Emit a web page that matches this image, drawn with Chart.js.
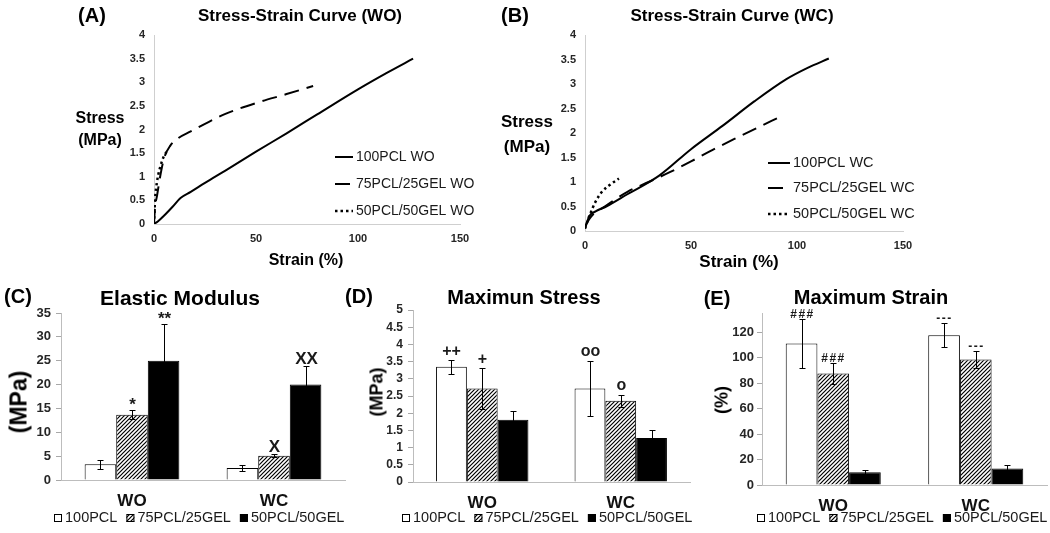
<!DOCTYPE html>
<html>
<head>
<meta charset="utf-8">
<script src="https://cdn.jsdelivr.net/npm/chart.js@4.4.1/dist/chart.umd.min.js"></script>
<style>
  html, body { margin: 0; padding: 0; background: #fff; width: 1050px; height: 533px; overflow: hidden; }
  body { position: relative; font-family: "Liberation Sans", Arial, sans-serif; color: #000; }
  canvas { position: absolute; left: 0; top: 0; }
  .t { position: absolute; white-space: nowrap; font-weight: bold; transform: translate(-50%, -50%); }
  .r { transform: translate(-50%, -50%) rotate(-90deg); }
</style>
</head>
<body>
<canvas id="chartA" width="1050" height="533"></canvas>
<canvas id="chartB" width="1050" height="533"></canvas>
<canvas id="chartC" width="1050" height="533"></canvas>
<canvas id="chartD" width="1050" height="533"></canvas>
<canvas id="chartE" width="1050" height="533"></canvas>

<div class="t" style="left:92px;top:15px;font-size:20px">(A)</div>
<div class="t" style="left:300px;top:16px;font-size:17px">Stress-Strain Curve (WO)</div>
<div class="t" style="left:100px;top:118px;font-size:16px">Stress</div>
<div class="t" style="left:100px;top:140px;font-size:16px">(MPa)</div>
<div class="t" style="left:306px;top:260px;font-size:16px">Strain (%)</div>

<div class="t" style="left:515px;top:15px;font-size:20px">(B)</div>
<div class="t" style="left:732px;top:16px;font-size:17px">Stress-Strain Curve (WC)</div>
<div class="t" style="left:527px;top:122px;font-size:17px">Stress</div>
<div class="t" style="left:527px;top:147px;font-size:17px">(MPa)</div>
<div class="t" style="left:739px;top:262px;font-size:17px">Strain (%)</div>

<div class="t" style="left:18px;top:296px;font-size:20px">(C)</div>
<div class="t" style="left:180px;top:298px;font-size:21px">Elastic Modulus</div>
<div class="t r" style="left:19px;top:402px;font-size:23px">(MPa)</div>

<div class="t" style="left:359px;top:296px;font-size:20px">(D)</div>
<div class="t" style="left:524px;top:297px;font-size:20px">Maximun Stress</div>
<div class="t r" style="left:377px;top:392px;font-size:18px">(MPa)</div>

<div class="t" style="left:717px;top:298px;font-size:20px">(E)</div>
<div class="t" style="left:871px;top:297px;font-size:20px">Maximum Strain</div>
<div class="t r" style="left:722px;top:400px;font-size:18px">(%)</div>

<script>
Chart.defaults.font.family = "'Liberation Sans', Arial, sans-serif";
Chart.defaults.color = "#262626";
Chart.defaults.animation = false;

const W = 1050, H = 533;
const FONT = "'Liberation Sans', Arial, sans-serif";

// stress-strain curves, points are [strain %, stress MPa]
const curveLabelsWO = ["100PCL WO", "75PCL/25GEL WO", "50PCL/50GEL WO"];
const curveLabelsWC = ["100PCL WC", "75PCL/25GEL WC", "50PCL/50GEL WC"];
const pcl100WO = [[0, 0], [2, 0.06], [5, 0.18], [9, 0.36], [13, 0.55], [18, 0.68], [25, 0.87], [35, 1.13], [50, 1.53], [65, 1.92], [80, 2.32], [100, 2.85], [115, 3.22], [127, 3.5]];
const pcl75WO = [[0, 0], [0.5, 0.35], [1.5, 0.6], [3, 1.0], [5, 1.4], [8, 1.66], [12, 1.82], [18, 1.96], [25, 2.12], [35, 2.33], [50, 2.56], [65, 2.75], [78, 2.92]];
const pcl50WO = [[0, 0], [0.5, 0.5], [1.5, 0.9], [3, 1.2], [5, 1.45], [6.5, 1.54]];
const pcl100WC = [[0, 0.05], [2, 0.3], [5, 0.4], [10, 0.5], [20, 0.75], [35, 1.13], [50, 1.67], [65, 2.15], [80, 2.65], [95, 3.1], [105, 3.33], [115, 3.52]];
const pcl75WC = [[0, 0.1], [3, 0.3], [10, 0.52], [20, 0.8], [30, 1.0], [40, 1.2], [50, 1.42], [60, 1.65], [70, 1.87], [80, 2.08], [92, 2.33]];
const pcl50WC = [[0, 0.05], [2, 0.3], [5, 0.6], [8, 0.8], [12, 0.95], [16, 1.07]];

// bar panels, one inner array per material: [WO, WC]
const groups = ["WO", "WC"];
const materials = ["100PCL", "75PCL/25GEL", "50PCL/50GEL"];
const modulusMean = [[3.3, 2.5], [13.7, 5.1], [25.0, 20.0]];
const modulusErr = [[0.9, 0.6], [0.9, 0.3], [7.6, 3.8]];
const modulusMarks = [["", ""], ["*", "X"], ["**", "XX"]];
const stressMean = [[3.35, 2.72], [2.72, 2.36], [1.81, 1.28]];
const stressErr = [[0.2, 0.79], [0.6, 0.18], [0.24, 0.22]];
const stressMarks = [["++", "oo"], ["+", "o"], ["", ""]];
const strainMean = [[111, 117.5], [87.5, 98.5], [10, 13]];
const strainErr = [[19.5, 9.5], [8.5, 7], [2, 3]];
const strainMarks = [["###", "---"], ["###", "---"], ["", ""]];

const plainNumber = (v) => String(+Number(v).toFixed(2));

function makeHatch() {
  const c = document.createElement("canvas");
  c.width = 4; c.height = 4;
  const g = c.getContext("2d");
  g.fillStyle = "#fff";
  g.fillRect(0, 0, 4, 4);
  g.strokeStyle = "#000";
  g.lineWidth = 1.2;
  g.beginPath();
  g.moveTo(0, 4); g.lineTo(4, 0);
  g.moveTo(-1, 1); g.lineTo(1, -1);
  g.moveTo(3, 5); g.lineTo(5, 3);
  g.stroke();
  return g.createPattern(c, "repeat");
}
const fills = ["#ffffff", makeHatch(), "#000000"];

// legend drawn inside the curve panels
const lineKey = {
  id: "lineKey",
  afterDraw(chart, args, opts) {
    const ctx = chart.ctx;
    ctx.save();
    ctx.font = opts.fontSize + "px " + FONT;
    ctx.textBaseline = "middle";
    chart.data.datasets.forEach((ds, i) => {
      const y = opts.rows[i];
      ctx.strokeStyle = "#000";
      ctx.lineWidth = ds.borderWidth;
      ctx.setLineDash(ds.borderDash || []);
      ctx.beginPath();
      ctx.moveTo(opts.x, y);
      ctx.lineTo(opts.x + opts.len, y);
      ctx.stroke();
      ctx.setLineDash([]);
      ctx.fillStyle = "#1a1a1a";
      ctx.fillText(ds.label, opts.x + opts.len + 3, y);
    });
    ctx.restore();
  }
};

// legend under the bar panels
const boxKey = {
  id: "boxKey",
  afterDraw(chart, args, opts) {
    const ctx = chart.ctx;
    const box = 8, gapIn = 3, gapOut = 9;
    ctx.save();
    ctx.font = "14.5px " + FONT;
    ctx.textBaseline = "middle";
    const ds = chart.data.datasets;
    let total = 0;
    ds.forEach((d, i) => { total += box + gapIn + ctx.measureText(d.label).width + (i ? gapOut : 0); });
    let x = Math.round(opts.cx - total / 2);
    ds.forEach((d, i) => {
      if (i) x += gapOut;
      const top = Math.round(opts.y - box / 2);
      ctx.fillStyle = d.backgroundColor;
      ctx.fillRect(x, top, box, box);
      ctx.strokeStyle = "#000";
      ctx.lineWidth = 1;
      ctx.strokeRect(x + 0.5, top + 0.5, box - 1, box - 1);
      x += box + gapIn;
      ctx.fillStyle = "#1a1a1a";
      ctx.fillText(d.label, x, opts.y);
      x += ctx.measureText(d.label).width;
    });
    ctx.restore();
  }
};

// error bars plus the significance marks above them
const errorBars = {
  id: "errorBars",
  afterDatasetsDraw(chart, args, opts) {
    const ctx = chart.ctx;
    const y = chart.scales.y;
    chart.data.datasets.forEach((ds, i) => {
      chart.getDatasetMeta(i).data.forEach((bar, j) => {
        const v = ds.data[j], e = ds.errors[j];
        const top = Math.round(y.getPixelForValue(v + e)) + 0.5;
        const bot = Math.round(y.getPixelForValue(v - e)) + 0.5;
        const x = Math.round(bar.x) + 0.5;
        ctx.save();
        ctx.strokeStyle = "#000";
        ctx.lineWidth = 1;
        ctx.beginPath();
        ctx.moveTo(x, top); ctx.lineTo(x, bot);
        ctx.moveTo(x - 3, top); ctx.lineTo(x + 3, top);
        ctx.moveTo(x - 3, bot); ctx.lineTo(x + 3, bot);
        ctx.stroke();
        const mark = ds.marks[j];
        if (mark) {
          ctx.font = opts.font;
          if ("letterSpacing" in ctx) ctx.letterSpacing = opts.spacing || "0px";
          ctx.textAlign = "center";
          ctx.textBaseline = "alphabetic";
          ctx.fillStyle = "#1a1a1a";
          const m = ctx.measureText(mark);
          const centre = top - opts.gap;
          const base = centre + (m.actualBoundingBoxAscent - m.actualBoundingBoxDescent) / 2;
          ctx.fillText(mark, x, base);
        }
        ctx.restore();
      });
    });
  }
};

function curveChart(id, labels, series, dashes, area, key, tickSize) {
  const yW = 40, xH = 30;
  new Chart(document.getElementById(id), {
    type: "line",
    data: {
      datasets: series.map((s, i) => ({
        label: labels[i],
        data: s,
        borderColor: "#000",
        borderWidth: i === 2 ? 2.5 : 2,
        borderDash: dashes[i],
        pointRadius: 0,
        cubicInterpolationMode: "monotone",
        fill: false
      }))
    },
    options: {
      responsive: false,
      events: [],
      layout: { padding: { left: area.left - yW, right: W - area.right, top: area.top, bottom: H - area.bottom - xH } },
      scales: {
        x: {
          type: "linear", min: 0, max: 150,
          afterFit: (s) => { s.height = xH; },
          ticks: { stepSize: 50, padding: 8, font: { size: tickSize, weight: "bold" }, callback: plainNumber },
          grid: { display: false, drawTicks: false },
          border: { color: "#cfcfcf" }
        },
        y: {
          min: 0, max: 4,
          afterFit: (s) => { s.width = yW; },
          ticks: { stepSize: 0.5, padding: 9, autoSkip: false, font: { size: tickSize, weight: "bold" }, callback: plainNumber },
          grid: { display: false, drawTicks: false },
          border: { color: "#cfcfcf" }
        }
      },
      plugins: { legend: { display: false }, tooltip: { enabled: false }, lineKey: key }
    },
    plugins: [lineKey]
  });
}

function barChart(id, means, errs, marks, area, yScale, keyX, markOpts, tickSize, tickPad) {
  const yW = 50, xH = 40;
  new Chart(document.getElementById(id), {
    type: "bar",
    data: {
      labels: groups,
      datasets: materials.map((m, i) => ({
        label: m,
        data: means[i],
        errors: errs[i],
        marks: marks[i],
        backgroundColor: fills[i],
        borderColor: "#000",
        borderWidth: 1,
        categoryPercentage: 0.667,
        barPercentage: 1
      }))
    },
    options: {
      responsive: false,
      events: [],
      layout: { padding: { left: area.left - yW, right: W - area.right, top: area.top, bottom: H - area.bottom - xH } },
      scales: {
        x: {
          afterFit: (s) => { s.height = xH; },
          ticks: { padding: 11, font: { size: 17, weight: "bold" }, color: "#111" },
          grid: { display: false, drawTicks: false },
          border: { color: "#bdbdbd" }
        },
        y: Object.assign({
          afterFit: (s) => { s.width = yW; },
          grid: { display: true, drawOnChartArea: false, drawTicks: true, tickLength: 5, color: "#a8a8a8" },
          border: { color: "#bdbdbd" }
        }, yScale, {
          ticks: Object.assign({ padding: tickPad, autoSkip: false, font: { size: tickSize, weight: "bold" }, callback: plainNumber }, yScale.ticks)
        })
      },
      plugins: {
        legend: { display: false },
        tooltip: { enabled: false },
        boxKey: { cx: keyX, y: 518 },
        errorBars: markOpts
      }
    },
    plugins: [errorBars, boxKey]
  });
}

curveChart("chartA", curveLabelsWO, [pcl100WO, pcl75WO, pcl50WO], [[], [15, 8], [2.5, 3]],
  { left: 154, right: 460, top: 35, bottom: 224 },
  { x: 335, len: 18, rows: [157, 184, 211], fontSize: 14 }, 11);

curveChart("chartB", curveLabelsWC, [pcl100WC, pcl75WC, pcl50WC], [[], [15, 8], [2.5, 3]],
  { left: 585, right: 903, top: 35, bottom: 231 },
  { x: 768, len: 22, rows: [163, 188, 214], fontSize: 14.5 }, 11);

barChart("chartC", modulusMean, modulusErr, modulusMarks,
  { left: 61, right: 345, top: 313, bottom: 480 },
  { min: 0, max: 35, ticks: { stepSize: 5 } }, 199,
  { font: "bold 17px " + FONT, gap: 9 }, 13, 5);

barChart("chartD", stressMean, stressErr, stressMarks,
  { left: 413, right: 690, top: 310, bottom: 482 },
  { min: 0, max: 5, ticks: { stepSize: 0.5 } }, 547,
  { font: "bold 16px " + FONT, gap: 10 }, 12, 5);

barChart("chartE", strainMean, strainErr, strainMarks,
  { left: 762, right: 1047, top: 313, bottom: 485 },
  { min: 0, max: 135, ticks: { stepSize: 20 }, afterBuildTicks: (s) => { s.ticks = s.ticks.filter((t) => t.value <= 120); } }, 902,
  { font: "bold 12px " + FONT, gap: 6, spacing: "1.5px" }, 13, 3);
</script>
</body>
</html>
